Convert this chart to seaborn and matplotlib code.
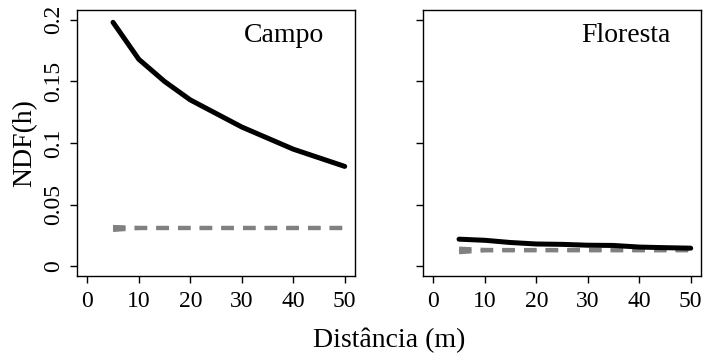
import numpy as np
import pandas as pd
import matplotlib
matplotlib.use("Agg")
import matplotlib.pyplot as plt
import seaborn as sns

# ---- data ----
distancia = [5, 10, 15, 20, 25, 30, 35, 40, 45, 50]
campo_ndf = [0.198, 0.168, 0.150, 0.135, 0.124, 0.113, 0.104, 0.095, 0.088, 0.081]
campo_env_hi = [0.0318, 0.0311, 0.0311, 0.0311, 0.0311, 0.0311, 0.0311, 0.0311, 0.0311, 0.0311]
campo_env_lo = [0.0294, 0.0309, 0.0309, 0.0309, 0.0309, 0.0309, 0.0309, 0.0309, 0.0309, 0.0309]
floresta_ndf = [0.0219, 0.0210, 0.0192, 0.0180, 0.0177, 0.0170, 0.0168, 0.0155, 0.0150, 0.0146]
floresta_env_hi = [0.0142, 0.0132, 0.0131, 0.0131, 0.0131, 0.0131, 0.0131, 0.0131, 0.0131, 0.0131]
floresta_env_lo = [0.0113, 0.0128, 0.0129, 0.0129, 0.0129, 0.0129, 0.0129, 0.0129, 0.0129, 0.0129]
panels = ["Campo", "Floresta"]
xticks = [0, 10, 20, 30, 40, 50]
yticks = [0, 0.05, 0.1, 0.15, 0.2]
ytick_labels = ["0", "0.05", "0.1", "0.15", "0.2"]

sns.set_style("ticks")
plt.rcParams['font.family'] = ['Liberation Serif', 'DejaVu Serif']
plt.rcParams['text.color'] = 'black'
plt.rcParams['axes.labelcolor'] = 'black'
plt.rcParams['xtick.color'] = 'black'
plt.rcParams['ytick.color'] = 'black'
plt.rcParams['axes.edgecolor'] = 'black'

fig = plt.figure(figsize=(7.04, 3.54), dpi=100)
W, H = 704, 354
def pos(l, r, t, b):
    return [l / W, (H - b) / H, (r - l) / W, (b - t) / H]

ax1 = fig.add_axes(pos(77, 355, 10, 276))
ax2 = fig.add_axes(pos(423, 701, 10, 276))

series = [
    (ax1, campo_ndf, campo_env_hi, campo_env_lo, panels[0]),
    (ax2, floresta_ndf, floresta_env_hi, floresta_env_lo, panels[1]),
]

for i, (ax, ndf, hi, lo, name) in enumerate(series):
    df = pd.DataFrame({"x": distancia, "ndf": ndf, "hi": hi, "lo": lo})
    for col in ["lo", "hi"]:
        sns.lineplot(data=df, x="x", y=col, ax=ax, color="#808080", lw=3.0,
                     dashes=False, legend=False)
        ax.lines[-1].set_dashes((3.0, 2.2))
        ax.lines[-1].set_dash_capstyle("butt")
    sns.lineplot(data=df, x="x", y="ndf", ax=ax, color="black", lw=3.6,
                 legend=False)
    ax.lines[-1].set_solid_capstyle("round")
    ax.set_xlim(-2, 52)
    ax.set_ylim(-0.008, 0.208)
    ax.set_xticks(xticks)
    ax.set_xticklabels([str(t) for t in xticks], fontsize=17, color="black")
    ax.set_yticks(yticks)
    ax.set_xlabel("")
    if i == 0:
        ax.set_yticklabels(ytick_labels, fontsize=17, rotation=90, va="center",
                           color="black")
        ax.set_ylabel("NDF(h)", fontsize=20, color="black")
        ax.yaxis.set_label_coords((37 - 77) / 278, 0.5)
    else:
        ax.set_yticklabels([])
        ax.set_ylabel("")
    ax.tick_params(axis="both", direction="out", length=5, width=1.0, color="black")
    ax.tick_params(axis="x", pad=6)
    ax.tick_params(axis="y", pad=4)
    for s in ax.spines.values():
        s.set_visible(True)
        s.set_linewidth(1.0)
        s.set_color("black")
    ax.text(0.89, 0.905, name, transform=ax.transAxes, ha="right", va="center",
            fontsize=20, color="black")

fig.text(389 / W, 1 - 340 / H, "Distância (m)", ha="center", va="center",
         fontsize=20, color="black")

fig.savefig("out.png", dpi=100)
